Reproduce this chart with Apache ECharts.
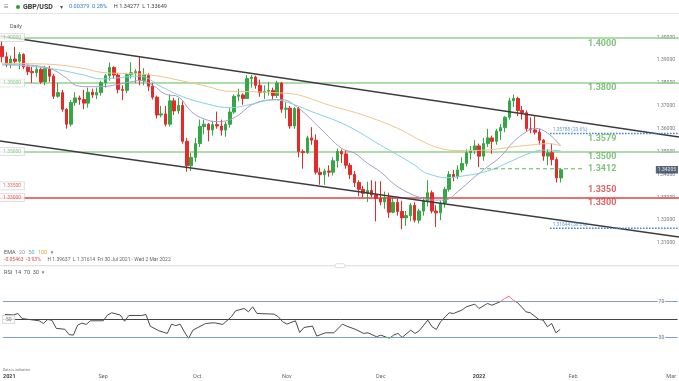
<!DOCTYPE html>
<html><head><meta charset="utf-8">
<script src="https://cdn.jsdelivr.net/npm/echarts@6/dist/echarts.min.js"></script>
<style>html,body{margin:0;padding:0;background:#fff}#c{width:679px;height:381px}</style>
</head><body><div id="c"></div>
<script>
// ---------------- DATA ----------------
const opens = [1.3960,1.3915,1.3880,1.3905,1.3895,1.3925,1.3870,1.3850,1.3845,1.3860,1.3805,1.3865,1.3830,1.3742,1.3758,1.3685,1.3620,1.3715,1.3735,1.3728,1.3712,1.3760,1.3748,1.3758,1.3802,1.3832,1.3868,1.3835,1.3772,1.3768,1.3836,1.3845,1.3850,1.3810,1.3835,1.3786,1.3738,1.3660,1.3665,1.3620,1.3722,1.3678,1.3702,1.3545,1.3438,1.3475,1.3535,1.3610,1.3620,1.3595,1.3618,1.3612,1.3594,1.3620,1.3673,1.3742,1.3748,1.3732,1.3820,1.3826,1.3790,1.3758,1.3764,1.3768,1.3745,1.3800,1.3685,1.3690,1.3612,1.3688,1.3500,1.3495,1.3560,1.3550,1.3410,1.3400,1.3415,1.3410,1.3460,1.3500,1.3490,1.3440,1.3400,1.3365,1.3335,1.3318,1.3330,1.3310,1.3295,1.3280,1.3298,1.3235,1.3278,1.3238,1.3210,1.3220,1.3265,1.3200,1.3240,1.3285,1.3320,1.3240,1.3232,1.3275,1.3335,1.3400,1.3390,1.3420,1.3448,1.3495,1.3505,1.3525,1.3480,1.3535,1.3560,1.3545,1.3590,1.3605,1.3650,1.3722,1.3732,1.3680,1.3670,1.3600,1.3595,1.3585,1.3550,1.3480,1.3495,1.3465,1.3385];
const highs = [1.3984,1.3935,1.3920,1.3958,1.3935,1.3930,1.3880,1.3870,1.3875,1.3868,1.3875,1.3875,1.3840,1.3800,1.3770,1.3690,1.3725,1.3760,1.3745,1.3770,1.3780,1.3775,1.3780,1.3810,1.3840,1.3890,1.3873,1.3845,1.3790,1.3845,1.3891,1.3860,1.3913,1.3865,1.3843,1.3800,1.3745,1.3700,1.3700,1.3750,1.3735,1.3735,1.3720,1.3560,1.3495,1.3560,1.3640,1.3640,1.3625,1.3635,1.3675,1.3640,1.3630,1.3690,1.3750,1.3775,1.3755,1.3835,1.3835,1.3832,1.3815,1.3790,1.3805,1.3780,1.3810,1.3805,1.3715,1.3700,1.3695,1.3695,1.3510,1.3570,1.3607,1.3575,1.3430,1.3425,1.3440,1.3475,1.3514,1.3510,1.3505,1.3450,1.3415,1.3375,1.3350,1.3368,1.3375,1.3370,1.3370,1.3325,1.3320,1.3300,1.3295,1.3285,1.3240,1.3275,1.3278,1.3250,1.3300,1.3375,1.3330,1.3265,1.3285,1.3345,1.3415,1.3420,1.3440,1.3475,1.3510,1.3525,1.3550,1.3535,1.3560,1.3600,1.3570,1.3600,1.3620,1.3655,1.3735,1.3749,1.3740,1.3700,1.3680,1.3650,1.3660,1.3600,1.3555,1.3510,1.3535,1.3475,1.3428];
const lows = [1.3890,1.3870,1.3865,1.3880,1.3860,1.3860,1.3835,1.3800,1.3825,1.3796,1.3790,1.3805,1.3730,1.3735,1.3675,1.3600,1.3610,1.3700,1.3705,1.3685,1.3692,1.3735,1.3730,1.3745,1.3780,1.3810,1.3820,1.3755,1.3725,1.3755,1.3820,1.3800,1.3790,1.3790,1.3765,1.3728,1.3645,1.3650,1.3610,1.3610,1.3660,1.3665,1.3535,1.3412,1.3415,1.3455,1.3520,1.3575,1.3545,1.3570,1.3600,1.3570,1.3565,1.3605,1.3665,1.3720,1.3705,1.3730,1.3780,1.3775,1.3740,1.3730,1.3745,1.3725,1.3735,1.3670,1.3645,1.3600,1.3600,1.3475,1.3425,1.3490,1.3530,1.3400,1.3355,1.3355,1.3390,1.3395,1.3430,1.3450,1.3425,1.3380,1.3345,1.3305,1.3300,1.3280,1.3300,1.3195,1.3265,1.3250,1.3210,1.3230,1.3220,1.3160,1.3175,1.3195,1.3190,1.3185,1.3220,1.3260,1.3230,1.3170,1.3200,1.3255,1.3325,1.3370,1.3380,1.3410,1.3435,1.3465,1.3490,1.3432,1.3460,1.3520,1.3490,1.3530,1.3550,1.3585,1.3640,1.3695,1.3655,1.3640,1.3588,1.3580,1.3575,1.3530,1.3460,1.3440,1.3440,1.3365,1.3365];
const closes = [1.3915,1.3880,1.3905,1.3895,1.3925,1.3870,1.3850,1.3845,1.3860,1.3805,1.3865,1.3830,1.3742,1.3758,1.3685,1.3620,1.3715,1.3735,1.3728,1.3712,1.3760,1.3748,1.3758,1.3802,1.3832,1.3868,1.3835,1.3772,1.3768,1.3836,1.3845,1.3850,1.3810,1.3835,1.3786,1.3738,1.3660,1.3665,1.3620,1.3722,1.3678,1.3702,1.3545,1.3438,1.3475,1.3535,1.3610,1.3620,1.3595,1.3618,1.3612,1.3594,1.3620,1.3673,1.3742,1.3748,1.3732,1.3820,1.3826,1.3790,1.3758,1.3764,1.3768,1.3745,1.3800,1.3685,1.3690,1.3612,1.3688,1.3500,1.3495,1.3560,1.3550,1.3410,1.3400,1.3415,1.3410,1.3460,1.3500,1.3490,1.3440,1.3400,1.3365,1.3335,1.3318,1.3330,1.3310,1.3295,1.3280,1.3298,1.3235,1.3278,1.3238,1.3210,1.3220,1.3265,1.3200,1.3240,1.3285,1.3320,1.3240,1.3232,1.3275,1.3335,1.3400,1.3390,1.3420,1.3448,1.3495,1.3505,1.3525,1.3480,1.3535,1.3560,1.3545,1.3590,1.3605,1.3650,1.3722,1.3732,1.3680,1.3670,1.3600,1.3595,1.3585,1.3550,1.3480,1.3495,1.3465,1.3385,1.34205];

// EMA readings: [candle index, value]
const ema20 = [[0,1.3879],[4,1.3879],[11,1.3864],[15,1.3821],[17,1.3791],[20,1.3784],[23,1.3784],[27,1.3794],[30,1.3805],[32,1.3811],[35,1.3791],[38,1.3751],[41,1.3740],[44,1.3675],[47,1.3643],[50,1.3631],[52,1.3634],[55,1.3660],[58,1.3704],[62,1.3726],[65,1.3728],[69,1.3689],[74,1.3602],[79,1.3514],[82,1.3493],[85,1.3449],[88,1.3412],[91,1.3361],[94,1.3325],[97,1.3301],[100,1.3288],[103,1.3288],[106,1.3325],[110,1.3390],[113,1.3434],[116,1.3478],[119,1.3543],[122,1.3587],[124,1.3602],[127,1.3580],[130,1.3525]];
const ema50 = [[0,1.3883],[11,1.3864],[19,1.3835],[23,1.3818],[32,1.3830],[37,1.3784],[42,1.3740],[48,1.3707],[53,1.3692],[58,1.3707],[63,1.3726],[66,1.3718],[72,1.3675],[80,1.3616],[88,1.3529],[96,1.3441],[98,1.3412],[100,1.3398],[103,1.3386],[106,1.3390],[113,1.3415],[119,1.3463],[123,1.3495],[126,1.3507],[130,1.3503]];
const ema100 = [[0,1.3886],[11,1.3882],[19,1.3864],[23,1.3847],[33,1.3838],[37,1.3828],[42,1.3809],[48,1.3784],[52,1.3765],[58,1.3762],[66,1.3755],[69,1.3748],[76,1.3704],[84,1.3660],[92,1.3602],[98,1.3543],[102,1.3514],[106,1.3504],[113,1.3507],[119,1.3521],[123,1.3529],[127,1.3535],[130,1.3526]];

// RSI(14) readings: [candle index, value]
const rsi = [[0,55.6],[2,55],[3,56.7],[4,51],[8,48.5],[9,45.5],[10,50],[11,49],[12,40],[14,39],[15,33],[16,32.4],[17,43.6],[18,46],[19,44.4],[20,48.5],[23,48.5],[24,55],[25,57.5],[27,55],[28,48],[29,54.5],[32,54.5],[33,55.6],[34,42.5],[36,37.3],[38,34.3],[39,44.8],[40,43],[41,44.8],[42,36],[43,28.7],[44,38],[47,45.5],[49,46.3],[51,44.4],[53,53],[54,59.7],[56,62.3],[57,58.6],[58,64.2],[59,56.7],[63,56],[64,53],[65,47.4],[66,44.8],[68,48.5],[69,35.4],[70,41],[72,42.5],[73,31.3],[75,35],[77,35],[79,44.8],[80,42.5],[82,39],[84,34.3],[85,35],[87,30.6],[88,32.4],[90,28.7],[91,32.4],[92,34.3],[93,29.8],[95,38],[96,34.3],[97,37.3],[99,49.3],[100,41.8],[101,38.8],[102,47.4],[104,57.5],[105,56.7],[107,60.5],[108,64.2],[110,67.2],[111,62.3],[113,68],[114,66],[116,70],[117,73.6],[118,76.2],[119,71.7],[120,69],[122,58.6],[123,57.5],[125,50],[126,49.3],[127,41.8],[128,45.5],[129,35],[130,38.8]];
const rsiLevels = [70, 50, 30];

// horizontal levels
const greenLevels = [1.40, 1.38, 1.35];
const redLevels = [1.335, 1.33];
const rightLabelLevels = [1.40, 1.38, 1.3579, 1.35, 1.3425, 1.335, 1.33];
const rightLabelTexts = ['1.4000','1.3800','1.3579','1.3500','1.3412','1.3350','1.3300'];
const supportLevel = 1.3425;             // dashed line (labelled 1.3412)
const supportRange = [111.2, 135.2];
const fibLevels = [1.35788, 1.31644];
const fibTexts = ['1.35788 (23.6%)', '1.31644 (38.2%)'];
const fibStart = 127.5;
// channel trend lines (x in candle-slot units)
const upperChannel = [[-0.5, 1.40057], [157.5, 1.35639]];
const lowerChannel = [[-0.5, 1.35464], [157.5, 1.31264]];
const lastPrice = 1.34205;

// x tick labels
const tickIdx = [1, 23, 45, 66, 88, 111, 133, 156];
const tickText = ['2021','Sep','Oct','Nov','Dec','2022','Feb','Mar'];
const yearTicks = ['2021','2022'];

// categories: trading days from 30 Jul 2021, plus empty future slots
const N_SLOTS = 158;
const cats = [];
(function(){ let d = new Date(Date.UTC(2021,6,30));
  while (cats.length < N_SLOTS) { const w = d.getUTCDay(); if (w !== 0 && w !== 6) cats.push(d.toISOString().slice(0,10)); d.setUTCDate(d.getUTCDate()+1); } })();

// ---------------- CHART ----------------
const FONT = 'Roboto, "Liberation Sans", sans-serif';
const GREEN = '#5fb35a', GREEN_LINE = '#93d08e', RED = '#dc3b3b', RED_LINE = '#e46a6a', BLUE = '#3b7fd0';
const candleData = opens.map((o,i)=>[o, closes[i], lows[i], highs[i]]);
const chart = echarts.init(document.getElementById('c'), null, {renderer:'canvas'});

function txt(t, x, y, style){ return {type:'text', x:x, y:y, z:100, style:Object.assign({text:t, font:'5px '+FONT, fill:'#555', verticalAlign:'middle'}, style||{})}; }

const rightLabels = rightLabelLevels.map((v,i)=>({
  value:[136.3, v],
  label:{show:true, position:'right', distance:0, offset:[0,[6,5,5,5,0,4,5][i]], formatter:rightLabelTexts[i],
    color: v < 1.34 ? RED : GREEN, fontWeight:'bold', fontSize:9, fontFamily:FONT}
}));
const leftLabels = greenLevels.concat(redLevels).map(v=>({
  value:[-0.5, v],
  label:{show:true, position:'right', distance:0, formatter:v.toFixed(5), color: v < 1.34 ? RED : '#6cbf67',
    fontSize:5, fontFamily:FONT, backgroundColor:'#fff', borderColor:'#c8c8c8', borderWidth:0.6, padding:[1.5,3,1,3]}
}));
const fibLabels = fibLevels.map((v,i)=>({
  value:[fibStart+0.6, v],
  label:{show:true, position:'right', distance:0, offset:[0,-4], formatter:fibTexts[i], color:BLUE, fontSize:4.8, fontFamily:FONT}
}));
const priceTag = [{value:[157.5, lastPrice], label:{show:true, position:'left', distance:1, formatter:lastPrice.toFixed(5),
  color:'#fff', backgroundColor:'#2e3f5c', padding:[1.5,2,1,2], fontSize:5, fontFamily:FONT}}];
const rsiLabels = [
  {value:[153.7, 70], label:{show:true, position:'inside', formatter:'70', color:'#555', fontSize:5, fontFamily:FONT, backgroundColor:'#fff', padding:[0,1]}},
  {value:[153.7, 30], label:{show:true, position:'inside', formatter:'30', color:'#555', fontSize:5, fontFamily:FONT, backgroundColor:'#fff', padding:[0,1]}},
  {value:[-0.5, 50], label:{show:true, position:'right', distance:0, formatter:'50', color:'#555', fontSize:5, fontFamily:FONT, backgroundColor:'#fff', borderColor:'#bbb', borderWidth:0.6, padding:[1.5,3,1,3]}}
];

const lvlLine = (v,c,w,t)=>({yAxis:v, lineStyle:{color:c, width:w, type:t||'solid'}});

const option = {
  animation:false,
  textStyle:{fontFamily:FONT},
  grid:[
    {left:0, right:0, top:14.44, height:251.46},
    {left:0, right:0, top:282, height:84}
  ],
  xAxis:[
    {type:'category', gridIndex:0, data:cats, boundaryGap:true, show:false},
    {type:'category', gridIndex:1, data:cats, boundaryGap:true,
      axisLine:{show:false}, axisTick:{show:false}, splitLine:{show:false},
      axisLabel:{interval:0, margin:8, fontSize:5.5, color:'#666', fontFamily:FONT,
        formatter:(v,i)=>{ const k = tickIdx.indexOf(i); if (k<0) return ''; const t = tickText[k]; return yearTicks.includes(t) ? '{y|'+t+'}' : t; },
        rich:{y:{fontWeight:'bold', color:'#444', fontSize:5.5, fontFamily:FONT}}}},
    {type:'value', gridIndex:0, min:-0.5, max:157.5, show:false},
    {type:'value', gridIndex:1, min:-0.5, max:157.5, show:false}
  ],
  yAxis:[
    {type:'value', gridIndex:0, position:'right', min:1.30, max:1.41, interval:0.01, scale:true,
      axisLine:{show:false}, axisTick:{show:false}, splitLine:{show:false},
      axisLabel:{inside:true, margin:4, fontSize:5, color:'#777', fontFamily:FONT,
        formatter:v=> (v < 1.305 || v > 1.405) ? '' : v.toFixed(5)}},
    {type:'value', gridIndex:1, min:-2.3, max:92.1, show:false}
  ],
  visualMap:[{type:'piecewise', show:false, seriesIndex:12, dimension:1,
    pieces:[{gt:70, color:'#f07070'},{lt:30, color:'#3fb64a'},{gte:30, lte:70, color:'#4a4a4a'}]}],
  series:[
    {type:'candlestick', xAxisIndex:0, yAxisIndex:0, data:candleData, barWidth:3,
      itemStyle:{color:'#34a845', color0:'#e62a2a', borderColor:'#34a845', borderColor0:'#e62a2a', borderWidth:1},
      markLine:{silent:true, symbol:['none','none'], label:{show:false}, z:1,
        data: greenLevels.map(v=>lvlLine(v, GREEN_LINE, 1.5)).concat(redLevels.map(v=>lvlLine(v, RED_LINE, 1.5)))}},
    {type:'line', xAxisIndex:0, yAxisIndex:0, data:ema20, showSymbol:false, smooth:0.4, lineStyle:{color:'#a79cc8', width:1}, z:3},
    {type:'line', xAxisIndex:0, yAxisIndex:0, data:ema50, showSymbol:false, smooth:0.4, lineStyle:{color:'#86d0dc', width:1}, z:3},
    {type:'line', xAxisIndex:0, yAxisIndex:0, data:ema100, showSymbol:false, smooth:0.4, lineStyle:{color:'#f0c38c', width:1}, z:3},
    {type:'line', xAxisIndex:2, yAxisIndex:0, data:upperChannel, showSymbol:false, lineStyle:{color:'#3c3c3c', width:1.3}, z:4},
    {type:'line', xAxisIndex:2, yAxisIndex:0, data:lowerChannel, showSymbol:false, lineStyle:{color:'#3c3c3c', width:1.3}, z:4},
    {type:'line', xAxisIndex:2, yAxisIndex:0, data:supportRange.map(x=>[x, supportLevel]), showSymbol:false, lineStyle:{color:'#5cb85c', width:1.2, type:[4,3]}, z:4},
    {type:'line', xAxisIndex:2, yAxisIndex:0, data:[[fibStart, fibLevels[0]],[157.5, fibLevels[0]]], showSymbol:false, lineStyle:{color:BLUE, width:1.5, type:[1.5,1.5]}, z:4},
    {type:'line', xAxisIndex:2, yAxisIndex:0, data:[[fibStart, fibLevels[1]],[157.5, fibLevels[1]]], showSymbol:false, lineStyle:{color:BLUE, width:1.5, type:[1.5,1.5]}, z:4},
    {type:'scatter', xAxisIndex:2, yAxisIndex:0, symbolSize:0, silent:true, z:10,
      data: rightLabels.concat(leftLabels, fibLabels, priceTag)},
    {type:'scatter', xAxisIndex:3, yAxisIndex:1, symbolSize:0, silent:true, z:10, data: rsiLabels},
    {type:'line', xAxisIndex:1, yAxisIndex:1, data:[], markLine:{silent:true, symbol:['none','none'], label:{show:false},
      data:[lvlLine(rsiLevels[0], '#7f9fd3', 1), lvlLine(rsiLevels[1], '#444', 1), lvlLine(rsiLevels[2], '#7f9fd3', 1)]}},
    {type:'line', xAxisIndex:1, yAxisIndex:1, data:rsi, showSymbol:false, lineStyle:{width:1}, z:5}
  ],
  graphic:[
    {type:'line', shape:{x1:0, y1:13.5, x2:679, y2:13.5}, style:{stroke:'#e4e4e4', lineWidth:1}},
    txt('\u2261', 4, 7, {font:'8px '+FONT, fill:'#777'}),
    {type:'circle', shape:{cx:18, cy:7, r:2}, style:{fill:'#2ca02c'}},
    txt('GBP/USD', 23, 7, {font:'bold 7px '+FONT, fill:'#333'}),
    txt('\u25BE', 60, 7, {font:'6px '+FONT, fill:'#555'}),
    {type:'text', x:69, y:7, z:100, style:{text:'{b|0.00379  0.28%}  {g|H 1.34277  L 1.33649}', verticalAlign:'middle',
      rich:{b:{fill:'#2f7fcf', font:'5.6px '+FONT}, g:{fill:'#444', font:'5.6px '+FONT}}}},
    txt('Daily', 10, 27, {font:'5.5px '+FONT, fill:'#555'}),
    {type:'text', x:4, y:252.7, z:100, style:{text:'{g|EMA} {p|20} {t|50} {o|100} {g|\u00D7}', verticalAlign:'middle',
      rich:{g:{fill:'#555', font:'5.5px '+FONT}, p:{fill:'#9c8fc4', font:'5.5px '+FONT}, t:{fill:'#49b6c6', font:'5.5px '+FONT}, o:{fill:'#e7a545', font:'5.5px '+FONT}}}},
    {type:'text', x:4, y:260, z:100, style:{text:'{r|-0.05463  -3.93%}  {g|H 1.39637  L 1.31614  Fri 30 Jul 2021 - Wed 2 Mar 2022}', verticalAlign:'middle',
      rich:{r:{fill:'#e04848', font:'5px '+FONT}, g:{fill:'#666', font:'5px '+FONT}}}},
    {type:'line', shape:{x1:0, y1:265.7, x2:679, y2:265.7}, style:{stroke:'#dadada', lineWidth:1}},
    {type:'rect', shape:{x:335, y:263.7, width:10, height:4, r:1.5}, style:{fill:'#fff', stroke:'#c8c8c8', lineWidth:0.6}},
    txt('RSI  14  70  30  \u00D7', 4, 272.3, {font:'5.5px '+FONT, fill:'#555'}),
    txt('Data is indicative', 3, 370, {font:'3.6px '+FONT, fill:'#777'})
  ]
};
chart.setOption(option);
</script></body></html>
